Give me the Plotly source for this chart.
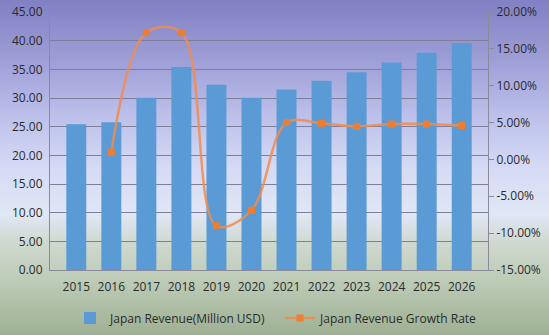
import plotly.graph_objects as go

# Japan market: yearly revenue and its growth rate
years = ["2015", "2016", "2017", "2018", "2019", "2020",
         "2021", "2022", "2023", "2024", "2025", "2026"]
revenue = [25.4, 25.75, 30.05, 35.4, 32.3, 30.05,
           31.5, 33.0, 34.5, 36.2, 37.9, 39.6]
growth = [None, 1.0, 17.2, 17.2, -9.0, -6.9,
          5.0, 4.9, 4.5, 4.8, 4.8, 4.6]

left_ticks = [0, 5, 10, 15, 20, 25, 30, 35, 40, 45]
right_ticks = [-15, -10, -5, 0, 5, 10, 15, 20]

W, H = 549, 335
ML, MR, MT, MB = 50, 61, 12, 65
PW, PH = W - ML - MR, H - MT - MB

# vertical background gradient (pixel row -> colour)
stops = [(0, (128, 128, 195)), (60, (158, 158, 215)), (120, (190, 194, 235)),
         (170, (214, 219, 245)), (215, (224, 231, 245)), (245, (206, 216, 206)),
         (275, (192, 206, 186)), (305, (176, 192, 168)), (335, (158, 176, 148))]


def colour_at(y):
    for (y0, c0), (y1, c1) in zip(stops, stops[1:]):
        if y0 <= y <= y1:
            t = (y - y0) / (y1 - y0)
            return "rgb(%d,%d,%d)" % tuple(round(a + (b - a) * t) for a, b in zip(c0, c1))
    return "rgb(%d,%d,%d)" % stops[-1][1]


shapes = []
step = 3
for y in range(0, H, step):
    shapes.append(dict(
        type="rect", xref="paper", yref="paper", layer="below",
        x0=-ML / PW, x1=(W - ML) / PW,
        y0=(H - MB - (y + step + 0.5)) / PH, y1=(H - MB - y + 0.5) / PH,
        fillcolor=colour_at(y + step / 2), line=dict(width=0)))

fig = go.Figure()
fig.add_trace(go.Bar(
    x=years, y=revenue, name="Japan Revenue(Million USD)",
    marker=dict(color="#5b9bd5", line=dict(width=0)), width=0.57,
    legend="legend"))
fig.add_trace(go.Scatter(
    x=years, y=growth, name="Japan Revenue Growth Rate", yaxis="y2",
    mode="lines+markers",
    line=dict(color="rgba(240,140,80,0.85)", width=2.5, shape="spline", smoothing=1.0),
    marker=dict(color="#ed7d31", symbol="square", size=7),
    legend="legend2"))

font = dict(family="Open Sans", size=12, color="#2b2b2b")
leg_y = (H - MB - 318) / PH
fig.update_layout(
    width=W, height=H, margin=dict(l=ML, r=MR, t=MT, b=MB, autoexpand=False),
    paper_bgcolor="rgba(0,0,0,0)", plot_bgcolor="rgba(0,0,0,0)",
    font=font, shapes=shapes,
    xaxis=dict(type="category", showgrid=False, showline=True, linecolor="#8a8a9a",
               linewidth=1, ticks="", tickfont=font, ticklabelstandoff=6),
    yaxis=dict(range=[0, 45], tickvals=left_ticks,
               ticktext=["%.2f" % v for v in left_ticks],
               showgrid=True, gridcolor="#7f7f99", gridwidth=1,
               showline=True, linecolor="#8a8a9a", zeroline=False, tickfont=font,
               ticklabelstandoff=4),
    yaxis2=dict(range=[-15, 20], tickvals=right_ticks,
                ticktext=["%.2f%%" % v for v in right_ticks],
                overlaying="y", side="right", showgrid=False, zeroline=False,
                showline=True, linecolor="#8a8a9a", ticks="outside", ticklen=5,
                tickcolor="#8a8a9a", tickfont=font),
    legend=dict(x=(70 - ML) / PW, xanchor="left", y=leg_y, yanchor="middle",
                font=font, bgcolor="rgba(0,0,0,0)"),
    legend2=dict(x=(280 - ML) / PW, xanchor="left", y=leg_y, yanchor="middle",
                 font=font, bgcolor="rgba(0,0,0,0)"),
    showlegend=True,
)

fig.write_html("out.html")
